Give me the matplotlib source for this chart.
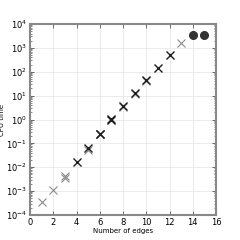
import matplotlib
matplotlib.use("Agg")
import matplotlib.pyplot as plt
from matplotlib.ticker import LogLocator, NullFormatter

x_light = [1, 2, 3, 3, 5, 8, 9, 10, 13]
y_light = [3.4e-4, 1.1e-3, 3.5e-3, 4.5e-3, 0.055, 3.2, 12, 40, 1600]
x_dark = [4, 5, 6, 6, 7, 7, 8, 9, 10, 11, 12]
y_dark = [0.017, 0.065, 0.24, 0.25, 0.95, 1.05, 3.7, 13, 46, 150, 480]
x_circ = [14, 15]
y_circ = [3600, 3600]

fig = plt.figure(figsize=(2.4, 2.4), dpi=100)
ax = fig.add_axes([0.125, 0.104, 0.775, 0.796])
ax.set_yscale("log")
ax.plot(x_light, y_light, linestyle="none", marker="x", color="#8a8a8a", ms=5.5, mew=0.8)
ax.plot(x_dark, y_dark, linestyle="none", marker="x", color="#1e1e1e", ms=5.5, mew=1.0)
ax.plot(x_circ, y_circ, linestyle="none", marker="o", color="#333333", ms=5.5)
ax.set_xlim(0, 16)
ax.set_ylim(1e-4, 1e4)
ax.set_xticks(range(0, 17, 2))
ax.yaxis.set_major_locator(LogLocator(base=10, numticks=20))
ax.yaxis.set_minor_locator(LogLocator(base=10, subs=range(2, 10), numticks=20))
ax.yaxis.set_minor_formatter(NullFormatter())
ax.grid(True, which="major", color="#e8e8e8", linewidth=0.6)
ax.set_axisbelow(True)
for s in ax.spines.values():
    s.set_color("#888888")
    s.set_linewidth(1.5)
ax.tick_params(which="both", direction="in", top=True, right=True, color="#555555",
               labelsize=6, pad=2)
ax.tick_params(which="major", length=3, width=0.6)
ax.tick_params(which="minor", length=1.5, width=0.5)
ax.set_xlabel("Number of edges", fontsize=5, labelpad=1)
ax.set_ylabel("CPU time", fontsize=5, labelpad=1)
ax.xaxis.offsetText.set_visible(False)
ax.yaxis.offsetText.set_visible(False)
fig.savefig("out.png", dpi=100)
